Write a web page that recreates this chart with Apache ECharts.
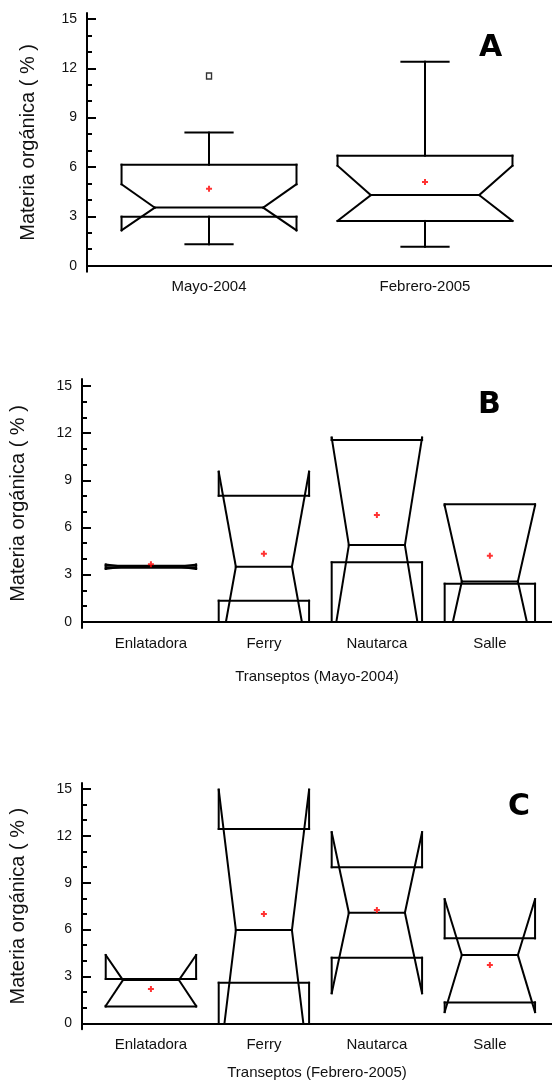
<!DOCTYPE html>
<html>
<head>
<meta charset="utf-8">
<script src="https://cdn.jsdelivr.net/npm/echarts@6/dist/echarts.min.js"></script>
<style>
  html, body { margin: 0; padding: 0; background: #fff; }
  #chart { width: 552px; height: 1088px; }
</style>
</head>
<body>
<div id="chart"></div>
<script>
// ---- panel A : by sampling date ----
const catsA = ['Mayo-2004', 'Febrero-2005'];
const minA = [1.30, 1.15];
const q1A = [2.98, 2.72];
const medA = [3.53, 4.29];
const q3A = [6.14, 6.69];
const maxA = [8.09, 12.40];
const notchLoA = [2.15, 2.72];
const notchHiA = [4.95, 6.08];
const meanA = [4.68, 5.08];
const outliersA = [[1, 11.53]];

// ---- panel B : transects, Mayo-2004 ----
const catsB = ['Enlatadora', 'Ferry', 'Nautarca', 'Salle'];
const q1B = [3.43, 1.34, 3.78, 2.42];
const medB = [3.50, 3.50, 4.88, 2.56];
const q3B = [3.56, 8.02, 11.57, 7.47];
const notchLoB = [3.36, -2.55, -1.84, -2.35];
const notchHiB = [3.64, 9.55, 11.72, 7.40];
const meanB = [3.66, 4.33, 6.79, 4.20];

// ---- panel C : transects, Febrero-2005 ----
const catsC = ['Enlatadora', 'Ferry', 'Nautarca', 'Salle'];
const q1C = [1.08, 2.60, 4.20, 1.34];
const medC = [2.77, 5.97, 7.08, 4.37];
const q3C = [2.84, 12.44, 9.99, 5.44];
const notchLoC = [1.12, -3.00, 1.93, 0.72];
const notchHiC = [4.37, 14.95, 12.23, 7.94];
const meanC = [2.20, 7.00, 7.25, 3.73];

const majorTicks = [0, 3, 6, 9, 12, 15];
const minorTicks = [1, 2, 4, 5, 7, 8, 10, 11, 13, 14];
const yTitle = 'Materia orgánica ( % )';
const plusSymbol = 'path://M2,0H4V2H6V4H4V6H2V4H0V2H2Z';

// clip a segment to y >= lo (data units)
function clipSeg(a, b, lo) {
  if (a[1] >= lo && b[1] >= lo) return [a, b];
  if (a[1] < lo && b[1] < lo) return null;
  const t = (lo - a[1]) / (b[1] - a[1]);
  const p = [a[0] + t * (b[0] - a[0]), lo];
  return a[1] < lo ? [p, b] : [a, p];
}

function boxRender(p, hw, lw) {
  return function (params, api) {
    const i = params.dataIndex;
    const x = api.value(0);
    const iw = hw * 0.62, cw = hw * 0.27;
    const q1 = p.q1[i], med = p.med[i], q3 = p.q3[i];
    const nLo = p.nLo[i], nHi = p.nHi[i];
    const poly = [
      [x - hw, q3], [x - hw, nHi], [x - iw, med], [x - hw, nLo], [x - hw, q1],
      [x + hw, q1], [x + hw, nLo], [x + iw, med], [x + hw, nHi], [x + hw, q3], [x - hw, q3]
    ];
    const segs = [];
    for (let k = 0; k < poly.length - 1; k++) segs.push([poly[k], poly[k + 1]]);
    segs.push([[x - iw, med], [x + iw, med]]);
    if (p.max) {
      segs.push([[x, q3], [x, p.max[i]]]);
      segs.push([[x - cw, p.max[i]], [x + cw, p.max[i]]]);
      segs.push([[x, q1], [x, p.min[i]]]);
      segs.push([[x - cw, p.min[i]], [x + cw, p.min[i]]]);
    }
    const children = [];
    segs.forEach(function (s) {
      const c = clipSeg(s[0], s[1], 0);
      if (!c) return;
      const a = api.coord(c[0]), b = api.coord(c[1]);
      children.push({
        type: 'line',
        shape: { x1: a[0], y1: a[1], x2: b[0], y2: b[1] },
        style: { stroke: '#000', lineWidth: lw, lineCap: 'square' }
      });
    });
    return { type: 'group', children: children };
  };
}

function xAxisFor(grid, cats, min, max, name, gap) {
  return {
    type: 'value', gridIndex: grid, min: min, max: max, position: 'bottom',
    axisLine: { show: true, lineStyle: { color: '#000', width: 2 } },
    axisTick: { show: false },
    splitLine: { show: false },
    axisLabel: {
      customValues: cats.map(function (c, i) { return i + 1; }),
      formatter: function (v) { return cats[Math.round(v) - 1]; },
      margin: 8, fontSize: 15, color: '#111', fontFamily: 'Liberation Sans, Arial'
    },
    name: name, nameLocation: 'middle', nameGap: gap,
    nameTextStyle: { fontSize: 15, color: '#111', fontFamily: 'Liberation Sans, Arial' }
  };
}

function yAxesFor(grid, min, max, gap) {
  return [{
    type: 'value', gridIndex: grid, min: min, max: max, position: 'left',
    axisLine: { show: true, lineStyle: { color: '#000', width: 2 } },
    axisTick: { show: true, inside: true, length: 9, customValues: majorTicks, lineStyle: { color: '#000', width: 2 } },
    axisLabel: { customValues: majorTicks, margin: 10, fontSize: 14, color: '#111', fontFamily: 'Liberation Sans, Arial' },
    splitLine: { show: false },
    name: yTitle, nameLocation: 'middle', nameRotate: 90, nameGap: gap,
    nameTextStyle: { fontSize: 20, color: '#111', fontFamily: 'Liberation Sans, Arial' }
  }, {
    type: 'value', gridIndex: grid, min: min, max: max, position: 'left', offset: 0,
    axisLine: { show: false },
    axisTick: { show: true, inside: true, length: 5, customValues: minorTicks, lineStyle: { color: '#000', width: 2 } },
    axisLabel: { show: false },
    splitLine: { show: false }
  }];
}

function panelSeries(axis, p, hw, lw) {
  const cats = p.cats;
  const out = [{
    type: 'custom', xAxisIndex: axis, yAxisIndex: axis * 2, silent: true,
    renderItem: boxRender(p, hw, lw),
    data: cats.map(function (c, i) { return [i + 1, p.q1[i], p.med[i], p.q3[i]]; }),
    z: 2
  }, {
    type: 'scatter', xAxisIndex: axis, yAxisIndex: axis * 2, silent: true,
    symbol: plusSymbol, symbolSize: 6,
    itemStyle: { color: '#ff0000' },
    data: p.mean.map(function (m, i) { return [i + 1, m]; }),
    z: 3
  }];
  if (p.out) {
    out.push({
      type: 'scatter', xAxisIndex: axis, yAxisIndex: axis * 2, silent: true,
      symbol: 'rect', symbolSize: [5, 6],
      itemStyle: { color: '#fff', borderColor: '#000', borderWidth: 1.5 },
      data: p.out, z: 3
    });
  }
  return out;
}

const chart = echarts.init(document.getElementById('chart'), null, { renderer: 'canvas' });

const option = {
  backgroundColor: '#fff',
  animation: false,
  title: [
    { text: 'A', left: 479, top: 33, padding: 0, textStyle: { fontSize: 30, fontWeight: 900, color: '#000', fontFamily: 'DejaVu Sans' } },
    { text: 'B', left: 478, top: 390, padding: 0, textStyle: { fontSize: 30, fontWeight: 900, color: '#000', fontFamily: 'DejaVu Sans' } },
    { text: 'C', left: 508, top: 792, padding: 0, textStyle: { fontSize: 30, fontWeight: 900, color: '#000', fontFamily: 'DejaVu Sans' } }
  ],
  grid: [
    { left: 87, right: 0, top: 13, bottom: 816.3 },
    { left: 79, right: 0, top: 379, bottom: 460 },
    { left: 79, right: 0, top: 783, bottom: 58.7 }
  ],
  xAxis: [
    xAxisFor(0, catsA, 0.435, 2.588, '', 0),
    xAxisFor(1, catsB, 0.39, 4.55, 'Transeptos (Mayo-2004)', 41),
    xAxisFor(2, catsC, 0.39, 4.55, 'Transeptos (Febrero-2005)', 36)
  ],
  yAxis: [].concat(
    yAxesFor(0, -0.365, 15.36, 49),
    yAxesFor(1, -0.40, 15.45, 54),
    yAxesFor(2, -0.38, 15.38, 54)
  ),
  series: [].concat(
    panelSeries(0, { cats: catsA, q1: q1A, med: medA, q3: q3A, nLo: notchLoA, nHi: notchHiA, min: minA, max: maxA, mean: meanA, out: outliersA }, 0.405, 2),
    panelSeries(1, { cats: catsB, q1: q1B, med: medB, q3: q3B, nLo: notchLoB, nHi: notchHiB, mean: meanB }, 0.40, 2),
    panelSeries(2, { cats: catsC, q1: q1C, med: medC, q3: q3C, nLo: notchLoC, nHi: notchHiC, mean: meanC }, 0.40, 2)
  )
};

chart.setOption(option);
</script>
</body>
</html>
